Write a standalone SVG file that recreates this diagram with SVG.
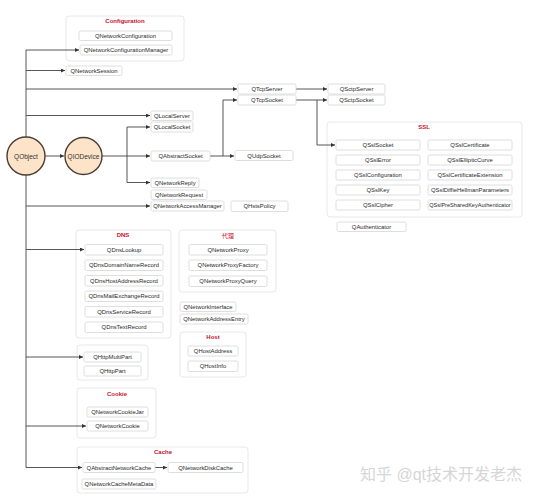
<svg xmlns="http://www.w3.org/2000/svg" width="538" height="500" viewBox="0 0 538 500">
<defs>
<marker id="ar" viewBox="0 0 10 10" refX="10" refY="5" markerWidth="5" markerHeight="4" markerUnits="userSpaceOnUse" orient="auto"><path d="M0,0 L10,5 L0,10 z" fill="#333"/></marker>
<style>
.b{fill:#fff;stroke:#d6d6d6;stroke-width:0.8}
.g{fill:#fff;stroke:#e2e2e2;stroke-width:0.8}
.t{font-family:"Liberation Sans","Noto Sans",sans-serif;font-size:5.9px;fill:#2a2a2a;text-anchor:middle;dominant-baseline:central}
.h{font-family:"Liberation Sans","Noto Sans CJK SC",sans-serif;font-size:6px;fill:#c8102e;font-weight:bold;text-anchor:middle;dominant-baseline:central}
.hc{font-family:"Noto Sans CJK SC",sans-serif;font-size:6px;fill:#c8102e;text-anchor:middle;dominant-baseline:central}
.c{fill:#fde3c8;stroke:#4a3c36;stroke-width:1.4}
.ct{font-family:"Liberation Sans","Noto Sans",sans-serif;font-size:6.5px;fill:#333;text-anchor:middle;dominant-baseline:central}
.l{fill:none;stroke:#444;stroke-width:0.9}
.la{fill:none;stroke:#444;stroke-width:0.9;marker-end:url(#ar)}
</style>
</defs>
<rect width="538" height="500" fill="#fff"/>

<g id="groups">
<rect class="g" x="66" y="16" width="118" height="45" rx="3"/>
<text class="h" x="125" y="20.5">Configuration</text>
<rect class="g" x="327" y="122" width="195" height="95" rx="3"/>
<text class="h" x="424" y="127">SSL</text>
<rect class="g" x="76" y="230" width="95" height="108" rx="3"/>
<text class="h" x="123" y="235">DNS</text>
<rect class="g" x="179" y="230" width="97" height="62" rx="3"/>
<text class="hc" x="228" y="235">代理</text>
<rect class="g" x="180" y="332" width="66" height="45" rx="3"/>
<text class="h" x="213" y="337">Host</text>
<rect class="g" x="77" y="345" width="71" height="35" rx="3"/>
<rect class="g" x="77" y="388" width="79" height="50" rx="3"/>
<text class="h" x="117" y="393.5">Cookie</text>
<rect class="g" x="77" y="447" width="171" height="46" rx="3"/>
<text class="h" x="163" y="452">Cache</text>
</g>

<g id="connectors">
<path class="l" d="M26,50 V467.5"/>
<path class="la" d="M26,50 H79"/>
<path class="la" d="M26,70.5 H65"/>
<path class="la" d="M26,89 H237"/>
<path class="la" d="M26,115.5 H150"/>
<path class="la" d="M45,156 H64"/>
<path class="la" d="M102,156 H150"/>
<path class="l" d="M127,127 V182.5"/>
<path class="la" d="M127,127 H150"/>
<path class="la" d="M127,182.5 H150"/>
<path class="la" d="M26,206 H150"/>
<path class="la" d="M26,249.5 H84"/>
<path class="la" d="M26,357 H83"/>
<path class="la" d="M26,426 H86"/>
<path class="la" d="M26,467.5 H82"/>
<path class="la" d="M210,156 H234"/>
<path class="la" d="M223,156 V100 H237"/>
<path class="la" d="M296,89 H327"/>
<path class="la" d="M296,100 H327"/>
<path class="la" d="M317,100 V145 H335"/>
<path class="la" d="M155,467.5 H167"/>
</g>

<g id="QObject"><circle class="c" cx="26" cy="156" r="19"/><text class="ct" x="26" y="156">QObject</text></g>
<g id="QIODevice"><circle class="c" cx="83.5" cy="156" r="18.5"/><text class="ct" x="83.5" y="156">QIODevice</text></g>

<g id="QNetworkConfiguration"><rect class="b" x="79" y="31" width="93" height="9.5" rx="1.5"/><text class="t" x="125.5" y="35.75">QNetworkConfiguration</text></g>
<g id="QNetworkConfigurationManager"><rect class="b" x="80" y="45" width="92" height="10" rx="1.5"/><text class="t" x="126" y="50">QNetworkConfigurationManager</text></g>
<g id="QNetworkSession"><rect class="b" x="66" y="66" width="56" height="9.5" rx="1.5"/><text class="t" x="94" y="70.75">QNetworkSession</text></g>
<g id="QTcpServer"><rect class="b" x="238" y="84" width="58" height="10" rx="1.5"/><text class="t" x="267" y="89">QTcpServer</text></g>
<g id="QTcpSocket"><rect class="b" x="238" y="95" width="58" height="10" rx="1.5"/><text class="t" x="267" y="100">QTcpSocket</text></g>
<g id="QSctpServer"><rect class="b" x="328" y="84" width="57" height="10" rx="1.5"/><text class="t" x="356.5" y="89">QSctpServer</text></g>
<g id="QSctpSocket"><rect class="b" x="328" y="95" width="57" height="10" rx="1.5"/><text class="t" x="356.5" y="100">QSctpSocket</text></g>
<g id="QLocalServer"><rect class="b" x="151" y="111" width="42" height="9.5" rx="1.5"/><text class="t" x="172" y="115.75">QLocalServer</text></g>
<g id="QLocalSocket"><rect class="b" x="151" y="122" width="42" height="10" rx="1.5"/><text class="t" x="172" y="127">QLocalSocket</text></g>
<g id="QAbstractSocket"><rect class="b" x="151" y="151" width="59" height="10" rx="1.5"/><text class="t" x="180.5" y="156">QAbstractSocket</text></g>
<g id="QUdpSocket"><rect class="b" x="235" y="150.5" width="58" height="10" rx="1.5"/><text class="t" x="264" y="155.5">QUdpSocket</text></g>
<g id="QNetworkReply"><rect class="b" x="151" y="178" width="48" height="9.5" rx="1.5"/><text class="t" x="175" y="182.75">QNetworkReply</text></g>
<g id="QNetworkRequest"><rect class="b" x="151" y="190" width="56" height="9.5" rx="1.5"/><text class="t" x="179" y="194.75">QNetworkRequest</text></g>
<g id="QNetworkAccessManager"><rect class="b" x="151" y="201" width="73" height="10" rx="1.5"/><text class="t" x="187.5" y="206">QNetworkAccessManager</text></g>
<g id="QHstsPolicy"><rect class="b" x="231" y="201" width="57" height="10.5" rx="1.5"/><text class="t" x="259.5" y="206.25">QHstsPolicy</text></g>

<g id="QSslSocket"><rect class="b" x="336" y="140" width="84" height="10" rx="1.5"/><text class="t" x="378" y="145">QSslSocket</text></g>
<g id="QSslError"><rect class="b" x="336" y="155" width="84" height="10" rx="1.5"/><text class="t" x="378" y="160">QSslError</text></g>
<g id="QSslConfiguration"><rect class="b" x="336" y="170" width="84" height="10" rx="1.5"/><text class="t" x="378" y="175">QSslConfiguration</text></g>
<g id="QSslKey"><rect class="b" x="336" y="185" width="84" height="10" rx="1.5"/><text class="t" x="378" y="190">QSslKey</text></g>
<g id="QSslCipher"><rect class="b" x="336" y="200" width="84" height="10" rx="1.5"/><text class="t" x="378" y="205">QSslCipher</text></g>
<g id="QSslCertificate"><rect class="b" x="428" y="140" width="84" height="10" rx="1.5"/><text class="t" x="470" y="145">QSslCertificate</text></g>
<g id="QSslEllipticCurve"><rect class="b" x="428" y="155" width="84" height="10" rx="1.5"/><text class="t" x="470" y="160">QSslEllipticCurve</text></g>
<g id="QSslCertificateExtension"><rect class="b" x="428" y="170" width="84" height="10" rx="1.5"/><text class="t" x="470" y="175">QSslCertificateExtension</text></g>
<g id="QSslDiffieHellmanParameters"><rect class="b" x="428" y="185" width="84" height="10" rx="1.5"/><text class="t" x="470" y="190">QSslDiffieHellmanParameters</text></g>
<g id="QSslPreSharedKeyAuthenticator"><rect class="b" x="428" y="200" width="84" height="10" rx="1.5"/><text class="t" x="470" y="205" style="font-size:5.6px">QSslPreSharedKeyAuthenticator</text></g>
<g id="QAuthenticator"><rect class="b" x="337" y="222" width="69" height="9.5" rx="1.5"/><text class="t" x="371.5" y="226.75">QAuthenticator</text></g>

<g id="QDnsLookup"><rect class="b" x="85" y="244.5" width="78" height="10.5" rx="1.5"/><text class="t" x="124" y="249.75">QDnsLookup</text></g>
<g id="QDnsDomainNameRecord"><rect class="b" x="85" y="260" width="78" height="10.5" rx="1.5"/><text class="t" x="124" y="265.25">QDnsDomainNameRecord</text></g>
<g id="QDnsHostAddressRecord"><rect class="b" x="85" y="275.5" width="78" height="10.5" rx="1.5"/><text class="t" x="124" y="280.75">QDnsHostAddressRecord</text></g>
<g id="QDnsMailExchangeRecord"><rect class="b" x="85" y="291" width="78" height="10.5" rx="1.5"/><text class="t" x="124" y="296.25">QDnsMailExchangeRecord</text></g>
<g id="QDnsServiceRecord"><rect class="b" x="85" y="306.5" width="78" height="10.5" rx="1.5"/><text class="t" x="124" y="311.75">QDnsServiceRecord</text></g>
<g id="QDnsTextRecord"><rect class="b" x="85" y="322" width="78" height="10.5" rx="1.5"/><text class="t" x="124" y="327.25">QDnsTextRecord</text></g>

<g id="QNetworkProxy"><rect class="b" x="189" y="244.5" width="78" height="10.5" rx="1.5"/><text class="t" x="228" y="249.75">QNetworkProxy</text></g>
<g id="QNetworkProxyFactory"><rect class="b" x="189" y="260" width="78" height="10.5" rx="1.5"/><text class="t" x="228" y="265.25">QNetworkProxyFactory</text></g>
<g id="QNetworkProxyQuery"><rect class="b" x="189" y="276" width="78" height="10.5" rx="1.5"/><text class="t" x="228" y="281.25">QNetworkProxyQuery</text></g>
<g id="QNetworkInterface"><rect class="b" x="180" y="302" width="56" height="9.5" rx="1.5"/><text class="t" x="208" y="306.75">QNetworkInterface</text></g>
<g id="QNetworkAddressEntry"><rect class="b" x="180" y="314" width="68" height="10" rx="1.5"/><text class="t" x="214" y="319">QNetworkAddressEntry</text></g>
<g id="QHostAddress"><rect class="b" x="188" y="346" width="50" height="10" rx="1.5"/><text class="t" x="213" y="351">QHostAddress</text></g>
<g id="QHostInfo"><rect class="b" x="188" y="361" width="50" height="10.5" rx="1.5"/><text class="t" x="213" y="366.25">QHostInfo</text></g>

<g id="QHttpMultiPart"><rect class="b" x="84" y="352" width="57" height="10" rx="1.5"/><text class="t" x="112.5" y="357">QHttpMultiPart</text></g>
<g id="QHttpPart"><rect class="b" x="84" y="366" width="57" height="10" rx="1.5"/><text class="t" x="112.5" y="371">QHttpPart</text></g>
<g id="QNetworkCookieJar"><rect class="b" x="87" y="407" width="61" height="10" rx="1.5"/><text class="t" x="117.5" y="412">QNetworkCookieJar</text></g>
<g id="QNetworkCookie"><rect class="b" x="87" y="421" width="61" height="10" rx="1.5"/><text class="t" x="117.5" y="426">QNetworkCookie</text></g>
<g id="QAbstractNetworkCache"><rect class="b" x="83" y="462.5" width="72" height="10" rx="1.5"/><text class="t" x="119" y="467.5">QAbstractNetworkCache</text></g>
<g id="QNetworkDiskCache"><rect class="b" x="168" y="462.5" width="75" height="10" rx="1.5"/><text class="t" x="205.5" y="467.5">QNetworkDiskCache</text></g>
<g id="QNetworkCacheMetaData"><rect class="b" x="82" y="479" width="74" height="10" rx="1.5"/><text class="t" x="119" y="484">QNetworkCacheMetaData</text></g>

<text x="360" y="480" style="font-family:'Liberation Sans','Noto Sans CJK SC',sans-serif;font-size:16px;fill:#d6d6d6">知乎 @qt技术开发老杰</text>
</svg>
